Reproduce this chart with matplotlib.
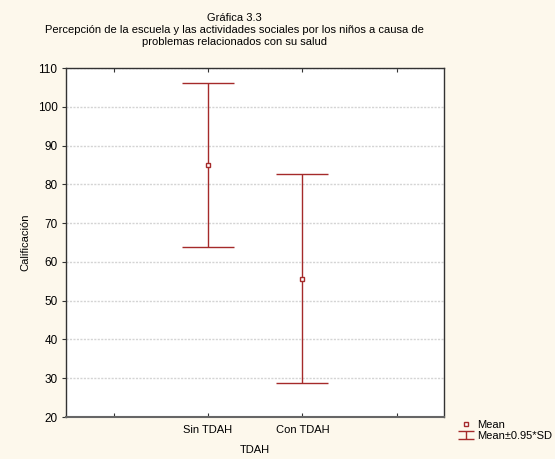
import matplotlib
matplotlib.use('Agg')
import matplotlib.pyplot as plt
from matplotlib.path import Path
import numpy as np

groups = ['Sin TDAH', 'Con TDAH']
means = [85.0, 55.7]
half_sd = [21.2, 27.05]   # 0.95*SD
xticklabels = ['', 'Sin TDAH', 'Con TDAH', '']
yticks = [20, 30, 40, 50, 60, 70, 80, 90, 100, 110]

red = '#a52a2a'
plt.rcParams['font.family'] = ['Liberation Sans Narrow', 'Liberation Sans', 'DejaVu Sans']
plt.rcParams['font.size'] = 8

fig = plt.figure(figsize=(5.55, 4.59), dpi=100, facecolor='#fdf8ec')
ax = fig.add_axes([0.1198, 0.0915, 0.680, 0.760])
ax.set_facecolor('white')

pos = np.arange(1, len(groups) + 1)
ax.errorbar(pos, means, yerr=half_sd, fmt='none', ecolor=red, elinewidth=1,
            capsize=19, capthick=1)
ax.plot(pos, means, 's', ms=3.5, mfc='white', mec=red, mew=1, linestyle='none')

ax.set_xlim(-0.5, 3.5)
ax.set_ylim(20, 110)
ax.set_xticks(range(4))
ax.set_xticklabels(xticklabels)
ax.set_yticks(yticks)
ax.tick_params(axis='x', direction='in', top=True, length=3, color='#333', pad=6)
ax.tick_params(axis='y', direction='out', length=3, color='#333', labelsize=8.5)
ax.yaxis.grid(True, linestyle=(0, (1.5, 1)), color='#d4d4d4', linewidth=1)
ax.set_axisbelow(True)
for s in ax.spines.values():
    s.set_color('#333333')
    s.set_linewidth(1)
ax.spines['bottom'].set_color('#666666')
ax.spines['bottom'].set_linewidth(1.5)

ax.set_xlabel('TDAH', labelpad=7)
ax.set_ylabel('Calificación', labelpad=5)

fig.text(0.422, 0.972, 'Gráfica 3.3\nPercepción de la escuela y las actividades sociales por los niños a causa de\nproblemas relacionados con su salud',
         ha='center', va='top', fontsize=8, linespacing=1.25)

# legend symbol for mean +- sd: wide caps top and bottom
ebar = Path([(-1, 0.55), (1, 0.55), (0, 0.55), (0, -0.55), (-1, -0.55), (1, -0.55)],
            [Path.MOVETO, Path.LINETO, Path.MOVETO, Path.LINETO, Path.MOVETO, Path.LINETO])
fig.legend(handles=[
    plt.Line2D([], [], marker='s', ms=3.5, mfc='white', mec=red, mew=1, linestyle='none'),
    plt.Line2D([], [], marker=ebar, ms=11, mfc='none', mec=red, mew=1, linestyle='none')],
    labels=['Mean', 'Mean±0.95*SD'], loc='lower left', bbox_to_anchor=(0.818, 0.03),
    frameon=False, handlelength=1.3, handletextpad=0.4, labelspacing=0.1, fontsize=8,
    borderaxespad=0)

fig.savefig('out.png', dpi=100, facecolor=fig.get_facecolor())
